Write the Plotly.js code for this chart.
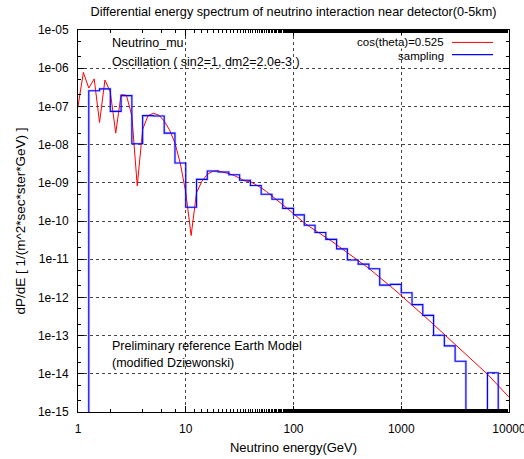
<!DOCTYPE html>
<html>
<head>
<meta charset="utf-8">
<script src="https://cdn.plot.ly/plotly-3.0.1.min.js"></script>
<style>html,body{margin:0;padding:0;background:#fff;}#chart{width:524px;height:459px;}</style>
</head>
<body>
<div id="chart"></div>
<script>
// Red curve: cos(theta)=0.525, energies (GeV) and dP/dE
var curveEnergy = [
  1, 1.122, 1.259, 1.413, 1.585, 1.778, 1.995, 2.239, 2.512, 2.818,
  3.162, 3.548, 3.981, 4.467, 5.012, 5.623, 6.310, 7.079, 7.943, 8.913,
  10, 11.22, 12.59, 14.13, 15.85, 17.78, 19.95, 22.39, 25.12, 28.18,
  31.62, 35.48, 39.81, 44.67, 50.12, 56.23, 63.10, 70.79, 79.43, 89.13,
  100, 112.2, 125.9, 141.3, 158.5, 177.8, 199.5, 223.9, 251.2, 281.8,
  316.2, 354.8, 398.1, 446.7, 501.2, 562.3, 631.0, 707.9, 794.3, 891.3,
  1000, 1122, 1259, 1413, 1585, 1778, 1995, 2239, 2512, 2818,
  3162, 3548, 3981, 4467, 5012, 5623, 6310, 7079, 7943, 8913,
  10000
];
var curveValue = [
  1.00e-7, 7.76e-7, 3.02e-7, 5.25e-7, 3.80e-8, 4.90e-7, 2.40e-7, 2.00e-8, 2.04e-7, 1.95e-7,
  5.62e-8, 8.32e-10, 2.51e-8, 5.75e-8, 6.61e-8, 5.89e-8, 4.17e-8, 2.40e-8, 1.10e-8, 3.16e-9,
  5.62e-10, 4.17e-11, 5.50e-10, 1.10e-9, 1.66e-9, 2.00e-9, 2.04e-9, 1.91e-9, 1.74e-9, 1.55e-9,
  1.32e-9, 1.12e-9, 1.07e-9, 9.12e-10, 7.41e-10, 5.89e-10, 4.57e-10, 3.55e-10, 2.69e-10, 2.04e-10,
  1.55e-10, 1.17e-10, 8.91e-11, 7.08e-11, 5.62e-11, 4.68e-11, 3.72e-11, 3.02e-11, 2.40e-11, 1.91e-11,
  1.51e-11, 1.20e-11, 9.55e-12, 7.41e-12, 5.75e-12, 4.37e-12, 3.39e-12, 2.57e-12, 1.95e-12, 1.48e-12,
  1.12e-12, 8.51e-13, 6.31e-13, 4.79e-13, 3.55e-13, 2.63e-13, 1.95e-13, 1.45e-13, 1.07e-13, 7.94e-14,
  5.89e-14, 4.37e-14, 3.24e-14, 2.40e-14, 1.78e-14, 1.32e-14, 9.77e-15, 6.92e-15, 4.90e-15, 3.47e-15,
  2.45e-15
];

// Blue histogram: "sampling" (bin edges in GeV, one value per bin; 0 = empty bin)
var binEdges = [
  1.259, 1.585, 1.995, 2.512, 3.162, 3.981, 5.012, 6.310, 7.943, 10,
  12.59, 15.85, 19.95, 25.12, 31.62, 39.81, 50.12, 63.10, 79.43, 100,
  125.9, 158.5, 199.5, 251.2, 316.2, 398.1, 501.2, 631.0, 794.3, 1000,
  1259, 1585, 1995, 2512, 3162, 3981, 5012, 6310, 7943
];
var binValue = [
  2.57e-7, 2.88e-7, 7.41e-8, 1.91e-7, 1.05e-8, 5.75e-8, 5.62e-8, 2.00e-8, 3.31e-9, 2.29e-10,
  1.23e-9, 2.04e-9, 1.91e-9, 1.62e-9, 1.17e-9, 8.51e-10, 5.01e-10, 3.72e-10, 2.14e-10, 1.45e-10,
  7.76e-11, 5.01e-11, 3.31e-11, 1.86e-11, 9.55e-12, 7.41e-12, 5.62e-12, 2.09e-12, 2.19e-12, 1.32e-12,
  6.46e-13, 3.39e-13, 1.02e-13, 5.37e-14, 2.14e-14, 0, 0, 1.07e-14
];

var xTickVals = [1, 10, 100, 1000, 10000];
var xTickText = ["1", "10", "100", "1000", "10000"];
var yTickVals = [1e-15, 1e-14, 1e-13, 1e-12, 1e-11, 1e-10, 1e-9, 1e-8, 1e-7, 1e-6, 1e-5];
var yTickText = ["1e-15", "1e-14", "1e-13", "1e-12", "1e-11", "1e-10", "1e-09", "1e-08", "1e-07", "1e-06", "1e-05"];

// Build step outline from histogram (empty bins drawn below the axis floor)
var FLOOR = 1e-20;
var stepX = [binEdges[0]];
var stepY = [FLOOR];
for (var i = 0; i < binValue.length; i++) {
  stepX.push(binEdges[i]);
  stepY.push(binValue[i] > 0 ? binValue[i] : FLOOR);
}
stepX.push(binEdges[binEdges.length - 1]);
stepY.push(FLOOR);

var font = "Liberation Sans, Arial, Helvetica, sans-serif";
var txt = {family: font, size: 12.5, color: "#000"};
var keyTxt = {family: font, size: 11.5, color: "#000"};

var traces = [
  {x: curveEnergy, y: curveValue, type: "scatter", mode: "lines",
   line: {color: "#ff0000", width: 1}, name: "cos(theta)=0.525", showlegend: false},
  {x: stepX, y: stepY, type: "scatter", mode: "lines",
   line: {color: "rgba(90,90,255,0.3)", width: 2.6, shape: "hv"}, hoverinfo: "skip", showlegend: false},
  {x: stepX, y: stepY, type: "scatter", mode: "lines",
   line: {color: "#0000ff", width: 1.1, shape: "hv"}, name: "sampling", showlegend: false}
];

var axisCommon = {
  showline: true, linecolor: "#000", linewidth: 1, mirror: "allticks",
  ticks: "inside", ticklen: 6, tickcolor: "#000", tickwidth: 1,
  showgrid: true, gridcolor: "#444", griddash: "dot", gridwidth: 1,
  zeroline: false, tickfont: {family: font, size: 12, color: "#000"},
  ticklabeloverflow: "allow",
  minor: {ticks: "inside", ticklen: 3, tickcolor: "#000", showgrid: false}
};

var layout = {
  width: 524, height: 459,
  margin: {l: 78, r: 15, t: 30, b: 47},
  paper_bgcolor: "#fff", plot_bgcolor: "#fff",
  font: txt,
  title: {text: "Differential energy spectrum of neutrino interaction near detector(0-5km)",
          font: {family: font, size: 12.7, color: "#000"},
          xref: "paper", x: 0.5, xanchor: "center", yref: "container", y: 0.974, yanchor: "middle"},
  xaxis: Object.assign({}, axisCommon, {
    type: "log", range: [0, 4], tickvals: xTickVals, ticktext: xTickText,
    ticklabelstandoff: 6,
    title: {text: "Neutrino energy(GeV)", font: {family: font, size: 13, color: "#000"}, standoff: 7}
  }),
  yaxis: Object.assign({}, axisCommon, {
    type: "log", range: [-15, -5], tickvals: yTickVals, ticktext: yTickText,
    ticklabelstandoff: 6,
    title: {text: "dP/dE [ 1/(m^2*sec*ster*GeV) ]", font: {family: font, size: 13.5, color: "#000"}, standoff: 9}
  }),
  showlegend: false,
  annotations: [
    {xref: "paper", yref: "paper", x: 0.0742, y: 0.9668, xanchor: "left", yanchor: "middle",
     text: "Neutrino_mu", showarrow: false, font: txt},
    {xref: "paper", yref: "paper", x: 0.0742, y: 0.917, xanchor: "left", yanchor: "middle",
     text: "Oscillation ( sin2=1, dm2=2.0e-3 )", showarrow: false, font: txt},
    {xref: "paper", yref: "paper", x: 0.0742, y: 0.1737, xanchor: "left", yanchor: "middle",
     text: "Preliminary reference Earth Model", showarrow: false, font: txt},
    {xref: "paper", yref: "paper", x: 0.0742, y: 0.1292, xanchor: "left", yanchor: "middle",
     text: "(modified Dziewonski)", showarrow: false, font: txt},
    {xref: "paper", yref: "paper", x: 0.8515, y: 0.9685, xanchor: "right", yanchor: "middle",
     text: "cos(theta)=0.525", showarrow: false, font: keyTxt, bgcolor: "#fff", borderpad: 0},
    {xref: "paper", yref: "paper", x: 0.8515, y: 0.933, xanchor: "right", yanchor: "middle",
     text: "sampling", showarrow: false, font: keyTxt, borderpad: 0}
  ],
  shapes: [
    {type: "line", xref: "paper", yref: "paper", x0: 0.8677, x1: 0.9629, y0: 0.9675, y1: 0.9675,
     line: {color: "#ff0000", width: 1}},
    {type: "line", xref: "paper", yref: "paper", x0: 0.8677, x1: 0.9629, y0: 0.9355, y1: 0.9355,
     line: {color: "#0000ff", width: 1.1}}
  ]
};

Plotly.newPlot("chart", traces, layout, {displayModeBar: false, staticPlot: true});
</script>
</body>
</html>
